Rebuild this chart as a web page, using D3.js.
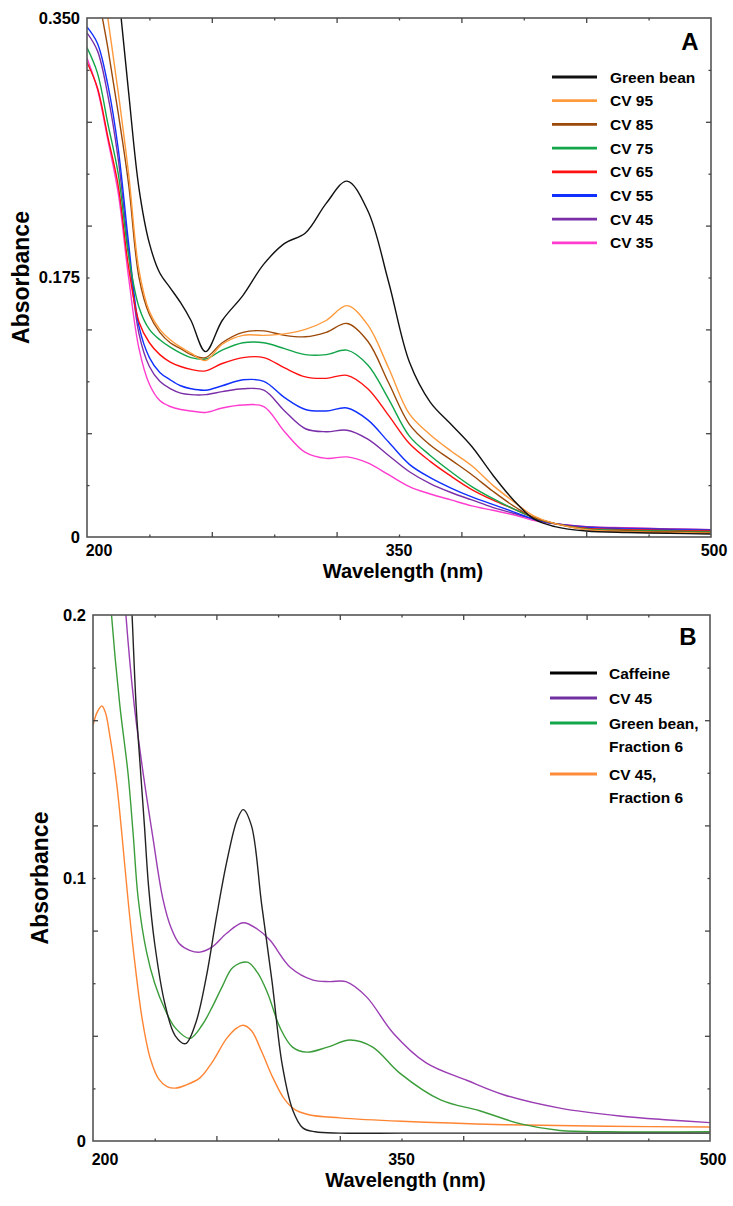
<!DOCTYPE html>
<html><head><meta charset="utf-8">
<script src="https://cdn.jsdelivr.net/npm/d3@7"></script>
<style>
body{margin:0;background:#fff}
text{font-family:"Liberation Sans",Arial,sans-serif;font-weight:bold;fill:#000}
</style>
</head><body>
<svg id="c" width="733" height="1206"></svg>
<script>
// ---------- Panel A data ----------
const wlA = [200,205,210,215,220,225,230,235,240,245,250,257,265,275,285,295,305,315,325,335,345,355,365,375,385,395,405,415,425,440,460,480,500];
const greenBean = [0.56,0.50,0.44,0.37,0.30,0.235,0.198,0.178,0.168,0.158,0.146,0.125,0.146,0.163,0.184,0.198,0.205,0.225,0.240,0.220,0.172,0.118,0.091,0.076,0.061,0.042,0.025,0.012,0.007,0.004,0.003,0.0025,0.002];
const cv95 = [0.46,0.40,0.35,0.30,0.245,0.18,0.152,0.140,0.133,0.128,0.124,0.119,0.130,0.136,0.136,0.137,0.140,0.146,0.156,0.143,0.114,0.083,0.069,0.058,0.048,0.035,0.024,0.014,0.009,0.005,0.0035,0.003,0.0025];
const cv85 = [0.43,0.37,0.33,0.286,0.238,0.175,0.150,0.138,0.131,0.127,0.123,0.121,0.131,0.138,0.139,0.136,0.135,0.138,0.144,0.132,0.104,0.076,0.062,0.052,0.042,0.031,0.021,0.013,0.009,0.005,0.004,0.0035,0.003];
const cv75 = [0.330,0.313,0.279,0.245,0.190,0.155,0.140,0.133,0.128,0.124,0.121,0.120,0.126,0.131,0.131,0.127,0.123,0.123,0.126,0.116,0.093,0.068,0.055,0.044,0.034,0.026,0.019,0.013,0.009,0.0055,0.0045,0.004,0.0035];
const cv65 = [0.320,0.303,0.270,0.237,0.182,0.145,0.131,0.123,0.118,0.115,0.113,0.112,0.117,0.121,0.121,0.114,0.108,0.107,0.109,0.100,0.082,0.063,0.051,0.041,0.032,0.025,0.019,0.013,0.009,0.006,0.005,0.0045,0.004];
const cv55 = [0.344,0.333,0.305,0.262,0.198,0.142,0.121,0.111,0.106,0.102,0.100,0.099,0.102,0.106,0.105,0.094,0.086,0.085,0.087,0.079,0.064,0.049,0.040,0.033,0.027,0.022,0.017,0.012,0.009,0.0065,0.0055,0.005,0.0045];
const cv45 = [0.340,0.328,0.298,0.255,0.192,0.137,0.115,0.105,0.100,0.097,0.096,0.096,0.098,0.100,0.099,0.085,0.073,0.071,0.072,0.066,0.055,0.044,0.036,0.030,0.025,0.020,0.016,0.012,0.009,0.007,0.006,0.0055,0.005];
const cv35 = [0.323,0.302,0.268,0.232,0.175,0.127,0.103,0.092,0.088,0.086,0.085,0.084,0.087,0.089,0.088,0.071,0.057,0.053,0.054,0.050,0.042,0.034,0.029,0.025,0.021,0.018,0.015,0.011,0.009,0.007,0.0062,0.0055,0.005];
const namesA = ["Green bean","CV 95","CV 85","CV 75","CV 65","CV 55","CV 45","CV 35"];
const colorsA = ["#111111","#ff9a3c","#9c4a0a","#12a54a","#ff1010","#1030ff","#7a2fa8","#ff3ccf"];

// ---------- Panel B data ----------
const wlCaffeine = [200,210,215,219,221,223,225,227,230,235,240,245,250,255,260,265,270,273,277,282,287,292,297,302,308,320,350,400,450,500];
const caffeine = [0.50,0.36,0.27,0.200,0.165,0.142,0.120,0.097,0.075,0.052,0.040,0.037,0.045,0.062,0.085,0.106,0.122,0.126,0.120,0.090,0.061,0.029,0.012,0.005,0.0035,0.003,0.003,0.003,0.003,0.003];
const wlCv45B = [200,210,214,216,220,224,229,234,238,242,247,252,258,265,273,280,286,296,307,315,323,333,346,362,382,400,427,456,480,500];
const cv45B = [0.45,0.28,0.225,0.20,0.166,0.142,0.116,0.092,0.081,0.075,0.0725,0.0718,0.0738,0.079,0.083,0.0805,0.0764,0.066,0.0612,0.0606,0.0606,0.0548,0.041,0.0297,0.023,0.0175,0.0125,0.0095,0.008,0.007];
const wlGreenF6 = [200,205,209,213,217,219.5,222,226,230,235,240,247,253,258,263,268,275,280,285,291,297,304,314,325,336,349,369,388,408,427,450,500];
const greenF6 = [0.32,0.25,0.200,0.166,0.140,0.117,0.092,0.072,0.060,0.050,0.043,0.039,0.044,0.051,0.059,0.066,0.068,0.064,0.056,0.043,0.0357,0.0338,0.0357,0.0384,0.0357,0.0259,0.0156,0.0115,0.0065,0.004,0.0035,0.0035];
const wlOrangeF6 = [200,202,204.3,206,208,211.5,214,217,220,224,228,232,236,240,245,252,258,265,270,273,277,282,287.5,293,298,305,320,350,400,450,500];
const orangeF6 = [0.158,0.163,0.1654,0.163,0.155,0.136,0.117,0.092,0.070,0.046,0.031,0.0235,0.0207,0.0201,0.0212,0.024,0.030,0.039,0.043,0.044,0.042,0.034,0.024,0.016,0.012,0.010,0.0088,0.0075,0.0062,0.0056,0.0053];
const namesB = [["Caffeine"],["CV 45"],["Green bean,","Fraction 6"],["CV 45,","Fraction 6"]];
const legendColorsB = ["#000000","#7030a0","#12a54a","#ff8c3a"];
const curveColorsB = ["#222222","#9a3db3","#3a9d3a","#ff8533"];

// ---------- Axis ticks ----------
const xTicksMajor = [260,320,380,440];
const xTicksMinor = [230,290,350,410,470];
const xLabels = [200,350,500];
const yTicksMajorA = [0.07,0.14,0.21,0.28];
const yTicksMinorA = [0.035,0.105,0.175,0.245,0.315];
const yLabelsA = ["0","0.175","0.350"];
const yTicksMajorB = [0.04,0.08,0.12,0.16];
const yTicksMinorB = [0.02,0.06,0.10,0.14,0.18];
const yLabelsB = ["0","0.1","0.2"];

const svg = d3.select("#c");

function panel(cfg){
  const x = d3.scaleLinear().domain([200,500]).range([cfg.x0,cfg.x1]);
  const y = d3.scaleLinear().domain([0,cfg.ymax]).range([cfg.y1,cfg.y0]);
  const g = svg.append("g");
  const cid = "clip"+cfg.id;
  g.append("clipPath").attr("id",cid).append("rect")
    .attr("x",cfg.x0).attr("y",cfg.y0).attr("width",cfg.x1-cfg.x0).attr("height",cfg.y1-cfg.y0);
  const line = d3.line().x(d=>x(d[0])).y(d=>y(d[1])).curve(d3.curveCatmullRom.alpha(0.5));
  const cg = g.append("g").attr("clip-path",`url(#${cid})`);
  cfg.series.forEach(s=>{
    cg.append("path").datum(d3.zip(s.wl,s.v)).attr("d",line)
      .attr("fill","none").attr("stroke",s.color).attr("stroke-width",1.4).attr("stroke-linejoin","round");
  });
  g.append("rect").attr("x",cfg.x0).attr("y",cfg.y0).attr("width",cfg.x1-cfg.x0).attr("height",cfg.y1-cfg.y0)
    .attr("fill","none").attr("stroke","#555").attr("stroke-width",1.6);
  const tick = (fn, scale, vals, size, tr)=>{
    g.append("g").attr("transform",tr)
      .call(fn(scale).tickValues(vals).tickSize(size).tickFormat(""))
      .call(a=>{a.select(".domain").remove(); a.selectAll("line").attr("stroke","#444").attr("stroke-width",1.3);});
  };
  tick(d3.axisBottom,x,xTicksMajor,-5,`translate(0,${cfg.y1})`);
  tick(d3.axisBottom,x,xTicksMinor,-2.5,`translate(0,${cfg.y1})`);
  tick(d3.axisTop,x,xTicksMajor,-5,`translate(0,${cfg.y0})`);
  tick(d3.axisTop,x,xTicksMinor,-2.5,`translate(0,${cfg.y0})`);
  tick(d3.axisLeft,y,cfg.yMajor,-5,`translate(${cfg.x0},0)`);
  tick(d3.axisLeft,y,cfg.yMinor,-2.5,`translate(${cfg.x0},0)`);
  tick(d3.axisRight,y,cfg.yMajor,-5,`translate(${cfg.x1},0)`);
  tick(d3.axisRight,y,cfg.yMinor,-2.5,`translate(${cfg.x1},0)`);

  cfg.yLabels.forEach(t=>{
    g.append("text").attr("x",cfg.x0-7).attr("y",y(+t)).attr("dy","0.36em")
      .attr("text-anchor","end").style("font-size","16.5px").text(t);
  });
  xLabels.forEach((v,i)=>{
    const px = x(v) + (i===0?12:(i===2?3:0));
    g.append("text").attr("x",px).attr("y",cfg.xLabelY).attr("text-anchor","middle")
      .style("font-size","16px").text(v);
  });
  g.append("text").attr("x",(cfg.x0+cfg.x1)/2+4).attr("y",cfg.titleY).attr("text-anchor","middle")
    .style("font-size","20px").text("Wavelength (nm)");
  g.append("text").attr("transform",`translate(${cfg.absX},${(cfg.y0+cfg.y1)/2}) rotate(-90)`)
    .attr("text-anchor","middle").style("font-size","23px").text("Absorbance");
  g.append("text").attr("x",cfg.letterX).attr("y",cfg.letterY).attr("text-anchor","middle")
    .style("font-size","24px").text(cfg.letter);
  return {g,x,y};
}

const pA = panel({id:"A",x0:87,x1:711,y0:18,y1:537,ymax:0.35,yMajor:yTicksMajorA,yMinor:yTicksMinorA,yLabels:yLabelsA,
  xLabelY:556,titleY:578,absX:29,letter:"A",letterX:690,letterY:50,
  series:[greenBean,cv95,cv85,cv75,cv65,cv55,cv45,cv35].map((v,i)=>({wl:wlA,v,color:colorsA[i]})).reverse()});
namesA.forEach((n,i)=>{
  const yy = 77 + i*23.7;
  pA.g.append("line").attr("x1",552).attr("x2",597).attr("y1",yy).attr("y2",yy)
    .attr("stroke",colorsA[i]).attr("stroke-width",2.8);
  pA.g.append("text").attr("x",610).attr("y",yy+5.5).style("font-size","15.5px").text(n);
});

const seriesB = [[wlCaffeine,caffeine],[wlCv45B,cv45B],[wlGreenF6,greenF6],[wlOrangeF6,orangeF6]];
const pB = panel({id:"B",x0:93,x1:710,y0:615,y1:1141,ymax:0.2,yMajor:yTicksMajorB,yMinor:yTicksMinorB,yLabels:yLabelsB,
  xLabelY:1165,titleY:1187,absX:48,letter:"B",letterX:688,letterY:645,
  series:seriesB.map((s,i)=>({wl:s[0],v:s[1],color:curveColorsB[i]})).reverse()});
const rowB = [673,698,723,774];
namesB.forEach((lines,i)=>{
  const yy = rowB[i];
  pB.g.append("line").attr("x1",550).attr("x2",597).attr("y1",yy).attr("y2",yy)
    .attr("stroke",legendColorsB[i]).attr("stroke-width",2.8);
  lines.forEach((t,j)=>{
    pB.g.append("text").attr("x",609).attr("y",yy+5.5+j*23).style("font-size","15.5px").text(t);
  });
});
</script>
</body></html>
